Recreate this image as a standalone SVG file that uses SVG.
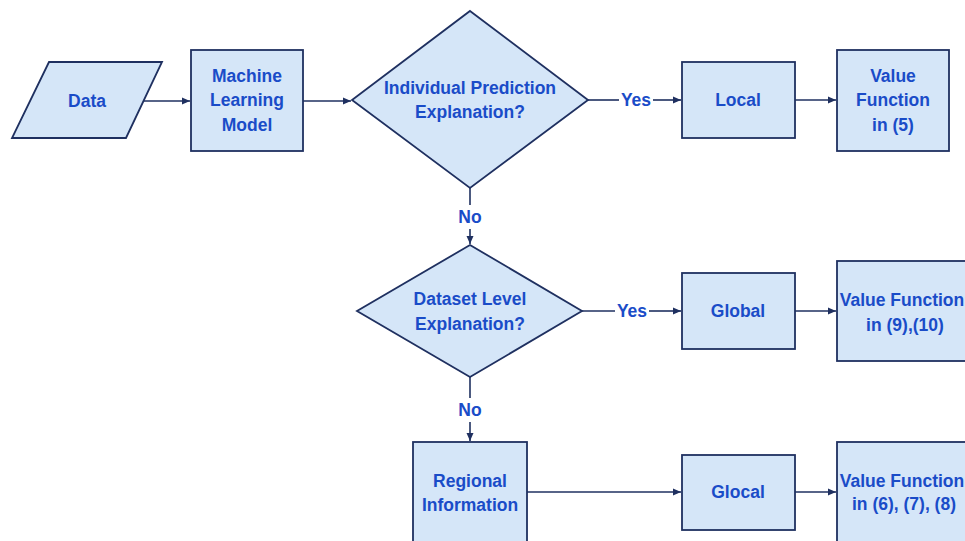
<svg xmlns="http://www.w3.org/2000/svg" width="965" height="541" viewBox="0 0 965 541">
<defs>
<marker id="ah" markerWidth="9" markerHeight="9" refX="8" refY="4.5" orient="auto" markerUnits="userSpaceOnUse">
<path d="M0,1 L8,4.5 L0,8 Z" fill="#1f3060"/>
</marker>
<style>
.n{fill:#d5e6f8;stroke:#1f3060;stroke-width:1.8}
.t{font-family:"Liberation Sans",Arial,sans-serif;font-weight:bold;font-size:17.5px;fill:#1a4cc8;text-anchor:middle}
.c{stroke:#1f3060;stroke-width:1.6;fill:none}
</style>
</defs>
<rect width="965" height="541" fill="#ffffff"/>
<g id="connectors">
<line class="c" x1="144" y1="101" x2="190" y2="101" marker-end="url(#ah)"/>
<line class="c" x1="303" y1="101" x2="351" y2="101" marker-end="url(#ah)"/>
<line class="c" x1="588" y1="100" x2="619" y2="100"/>
<line class="c" x1="653" y1="100" x2="681" y2="100" marker-end="url(#ah)"/>
<line class="c" x1="795" y1="100" x2="836" y2="100" marker-end="url(#ah)"/>
<line class="c" x1="470" y1="188" x2="470" y2="205"/>
<line class="c" x1="470" y1="229" x2="470" y2="244" marker-end="url(#ah)"/>
<line class="c" x1="582" y1="311" x2="615" y2="311"/>
<line class="c" x1="649" y1="311" x2="681" y2="311" marker-end="url(#ah)"/>
<line class="c" x1="795" y1="311" x2="836" y2="311" marker-end="url(#ah)"/>
<line class="c" x1="470" y1="377" x2="470" y2="398"/>
<line class="c" x1="470" y1="422" x2="470" y2="441" marker-end="url(#ah)"/>
<line class="c" x1="527" y1="492" x2="681" y2="492" marker-end="url(#ah)"/>
<line class="c" x1="795" y1="492" x2="836" y2="492" marker-end="url(#ah)"/>
<text class="t" x="636" y="106">Yes</text>
<text class="t" x="632" y="317">Yes</text>
<text class="t" x="470" y="223">No</text>
<text class="t" x="470" y="416">No</text>
</g>
<g id="data">
<polygon class="n" points="49,62 162,62 126,138 12,138"/>
<text class="t" x="87" y="107">Data</text>
</g>
<g id="ml">
<rect class="n" x="191" y="50" width="112" height="101"/>
<text class="t" x="247" y="82">Machine</text>
<text class="t" x="247" y="106">Learning</text>
<text class="t" x="247" y="131">Model</text>
</g>
<g id="d1">
<polygon class="n" points="470,11 588,100 470,188 352,100"/>
<text class="t" x="470" y="94">Individual Prediction</text>
<text class="t" x="470" y="118">Explanation?</text>
</g>
<g id="local">
<rect class="n" x="682" y="62" width="113" height="76"/>
<text class="t" x="738" y="106">Local</text>
</g>
<g id="vf1">
<rect class="n" x="837" y="50" width="112" height="101"/>
<text class="t" x="893" y="82">Value</text>
<text class="t" x="893" y="106">Function</text>
<text class="t" x="893" y="131">in (5)</text>
</g>
<g id="d2">
<polygon class="n" points="470,245 582,311 470,377 357,311"/>
<text class="t" x="470" y="305">Dataset Level</text>
<text class="t" x="470" y="330">Explanation?</text>
</g>
<g id="global">
<rect class="n" x="682" y="273" width="113" height="76"/>
<text class="t" x="738" y="317">Global</text>
</g>
<g id="vf2">
<rect class="n" x="837" y="261" width="136" height="100"/>
<text class="t" x="902" y="306">Value Function</text>
<text class="t" x="905" y="331">in (9),(10)</text>
</g>
<g id="regional">
<rect class="n" x="413" y="442" width="114" height="110"/>
<text class="t" x="470" y="487">Regional</text>
<text class="t" x="470" y="511">Information</text>
</g>
<g id="glocal">
<rect class="n" x="682" y="455" width="113" height="75"/>
<text class="t" x="738" y="498">Glocal</text>
</g>
<g id="vf3">
<rect class="n" x="837" y="442" width="136" height="110"/>
<text class="t" x="902" y="487">Value Function</text>
<text class="t" x="904" y="510">in (6), (7), (8)</text>
</g>
</svg>
